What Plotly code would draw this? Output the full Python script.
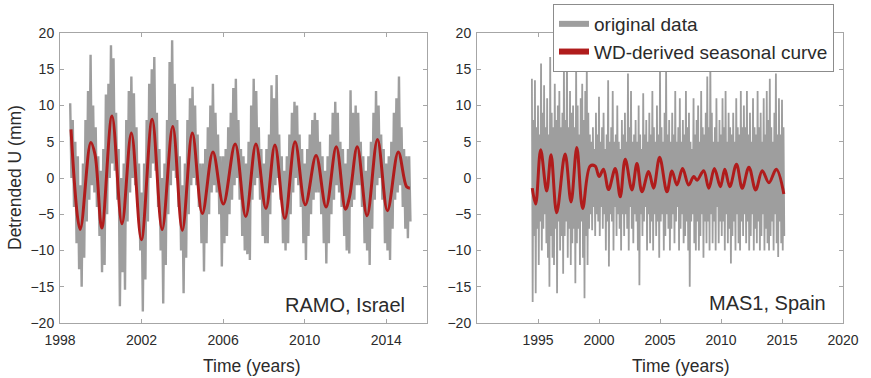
import plotly.graph_objects as go

# ---------------- data ----------------
STEP = 0.125  # years between successive high/low samples of the raw series

# RAMO, Israel - raw series envelope (high / low per 1/8 year), starting 1998.5
ramo_start = 1998.5
ramo_hi = [10.3, 8, 5, 3,
           -1, 2, 8, 12, 17.0, 10, 7, 3,
           1, 4, 11.5, 13, 18.3, 16.5, 9, 4,
           0, 2, 8, 12, 14, 11.7, 7, 2,
           -2, 2, 8, 13, 15, 16.7, 9, 4,
           0, 2, 8, 16, 19, 13, 8, 3,
           -1, 2, 8, 11, 12.6, 10, 6, 2,
           2, 4, 7, 10, 13, 9, 6, 3,
           3, 4, 7, 9, 12.4, 13.7, 8, 4,
           3, 2, 5, 10, 13.7, 12, 7, 4,
           2, 4, 6, 12.8, 11, 14.2, 6, 3,
           1, 3, 6, 9, 10.5, 10, 6, 4,
           2, 4, 6, 8, 9, 8, 5, 3,
           1, 3, 6, 9, 10.5, 9, 5, 4,
           2, 4, 12.1, 9, 10, 9, 5, 3,
           1, 3, 5, 9, 12, 10, 6, 4,
           2, 3, 5, 9, 11, 14, 7, 4,
           3, 3]
ramo_lo = [0, -4, -9, -12.6,
           -15, -11, -6, -3, -1, -2, -4, -8,
           -13, -12, -5, 0, 2, 1, -3, -17.7,
           -13, -15.4, -6, -2, 0, -1, -4, -10,
           -18.4, -14, -6, 0, 2, 1, -4, -10,
           -17.3, -12, -5, -1, 1, 0, -4, -10,
           -15.9, -11, -5, -1, 0, -1, -4, -9,
           -12.9, -9, -5, -2, -1, -2, -5, -12.2,
           -9, -8, -5, -3, -1, 0, -3, -8,
           -10, -10.5, -11.3, -3, -1, 0, -3, -8,
           -9, -9, -5, -2, -1, 0, -3, -9,
           -10, -9, -5, -2, 0, -1, -4, -9,
           -11.3, -8, -5, -3, -2, -2, -5, -9,
           -11.8, -9, -5, -3, -1, -2, -4, -8,
           -10, -10.4, -4, -3, -1, -1, -4, -9,
           -10, -12, -7, -3, -1, 0, -3, -9,
           -10, -11.3, -7, -3, -2, -1, -4, -7,
           -8.3, -6]

# RAMO - WD-derived seasonal curve (turning points)
ramo_red_t = [1998.54, 1998.99, 1999.51, 1999.72, 2000.05, 2000.55, 2001.04, 2001.50,
              2001.99, 2002.52, 2003.01, 2003.53, 2004.00, 2004.49, 2004.98, 2005.50,
              2006.01, 2006.59, 2007.11, 2007.61, 2008.10, 2008.54, 2009.03, 2009.53,
              2010.03, 2010.56, 2011.05, 2011.55, 2012.00, 2012.20, 2012.58, 2013.06,
              2013.57, 2014.06, 2014.59, 2015.0, 2015.16]
ramo_red_v = [6.7, -7.1, 4.9, 3.2, -6.9, 8.55, -6.3, 6.2,
              -8.5, 8.1, -7.1, 7.1, -7.2, 6.2, -4.9, 3.6,
              -3.6, 4.7, -5.3, 4.7, -4.2, 4.55, -5.6, 5.0,
              -3.7, 3.1, -4.0, 4.3, -4.3, -2.6, 4.3, -5.2,
              5.3, -4.5, 3.6, -1.2, -1.4]

# MAS1, Spain - raw series envelope, starting 1994.5
mas_start = 1994.5
mas_hi = [13.7, 8, 13.5, 7,
          10, 6, 15.8, 9, 12.8, 7, 11, 6,
          16.7, 9, 7, 13, 8, 10, 12, 7,
          9, 16, 8, 17.7, 7, 12, 9, 10,
          7, 15.6, 10, 6, 11, 13, 8, 12,
          15.8, 9, 6, 5, 7, 4, 9, 6,
          11.2, 5, 7, 9, 4, 6, 13.5, 5,
          7, 12, 5, 6, 10, 5, 4, 8,
          6, 9, 5, 14.4, 7, 12, 5, 6,
          8, 5, 10, 6, 4, 11.7, 6, 8,
          5, 9, 6, 12, 7, 5, 10, 6,
          15.1, 7, 5, 9, 14.9, 6, 8, 5,
          9, 6, 12, 5, 7, 11, 5, 8,
          6, 12, 7, 9, 5, 4, 11, 6,
          8, 10, 5, 12, 7, 6, 9, 14,
          7, 16.5, 9, 5, 7, 11, 5, 8,
          6, 11, 7, 12, 5, 9, 7, 6,
          9, 5, 11, 7, 6, 12, 7, 10,
          7, 12, 6, 9, 5, 11, 7, 6,
          12, 7, 9, 5, 11, 6, 12, 8,
          13.7, 7, 5, 9, 14.4, 6, 11, 6,
          10.8, 7]
mas_lo = [-17.1, -8, -15.9, -7,
          -12, -6, -10, -7, -5, -9, -11, -15,
          -8, -11, -12, -7, -15.9, -6, -10, -8,
          -13.2, -8, -6, -11, -7, -12, -9, -7,
          -14.5, -9, -7, -12, -6, -11, -16.6, -8,
          -12, -7, -5, -7.2, -4, -8, -5, -6,
          -8, -4, -7, -5, -10, -6, -12.2, -5,
          -6, -10, -4, -8, -5, -7, -10, -5,
          -8, -5, -7, -10, -4, -7, -9, -5,
          -6, -10, -14.8, -5, -8, -6, -4, -10,
          -5, -9, -6, -10, -5, -8, -6, -11,
          -6, -5, -10, -8, -5, -7, -10, -7,
          -5, -9, -6, -4, -10, -7, -5, -9,
          -8, -6, -10, -15, -6, -5, -9, -10,
          -6, -10, -8, -5, -11, -6, -9, -6,
          -10, -5, -9, -6, -10, -4, -9, -6,
          -8, -6, -10, -5, -9, -7, -11.8, -8,
          -6, -10, -5, -9, -10, -6, -8, -5,
          -9, -6, -10, -8, -5, -10, -7, -9,
          -6, -10, -8, -5, -10, -7, -9, -10,
          -8, -6, -10, -5, -9, -10.9, -6, -9,
          -10, -8]

# MAS1 - WD-derived seasonal curve (turning points)
mas_red_t = [1994.53, 1994.81, 1995.22, 1995.71, 1996.07, 1996.53, 1997.22, 1997.71,
             1998.18, 1998.66, 1999.27, 1999.68, 2000.01, 2000.37, 2000.78, 2001.33,
             2001.74, 2002.15, 2002.70, 2003.11, 2003.52, 2004.07, 2004.47, 2004.97,
             2005.57, 2005.98, 2006.39, 2006.85, 2007.35, 2007.76, 2008.04, 2008.58,
             2009.00, 2009.46, 2009.95, 2010.31, 2010.72, 2011.27, 2011.74, 2012.29,
             2012.84, 2013.38, 2013.93, 2014.53, 2015.15]
mas_red_v = [-1.4, -3.6, 3.9, -1.8, 3.2, -4.8, 3.3, -3.3,
             4.2, -4.2, 1.65, 1.65, 0.2, 1.2, -1.6, 1.3,
             -2.6, 2.6, -1.65, 2.0, -1.9, 0.9, -1.4, 2.85,
             -1.9, 0.97, -0.97, 1.3, -0.97, 0.2, -0.3, 1.0,
             -1.4, 1.3, -1.2, 1.2, -1.2, 1.9, -1.4, 1.5,
             -1.65, 1.0, -0.65, 1.2, -2.2]

left_xticks = [1998, 2002, 2006, 2010, 2014]
right_xticks = [1995, 2000, 2005, 2010, 2015, 2020]
yticks = [-20, -15, -10, -5, 0, 5, 10, 15, 20]

# ---------------- styling ----------------
GRAY = "#9e9e9e"
RED = "#b01c1c"
FONT = "Liberation Sans, Arial, sans-serif"
TXT = "#2b2b2b"
FRAME = "#a6a6a6"


def zigzag(start, hi, lo):
    xs, ys = [], []
    for i, (h, l) in enumerate(zip(hi, lo)):
        t = start + i * STEP
        xs += [t, t + STEP / 2]
        ys += [h, l]
    return xs, ys


fig = go.Figure()

rx, ry = zigzag(ramo_start, ramo_hi, ramo_lo)
mx, my = zigzag(mas_start, mas_hi, mas_lo)

fig.add_trace(go.Scatter(x=rx, y=ry, mode="lines", line=dict(color=GRAY, width=2.4),
                         showlegend=False, xaxis="x", yaxis="y", hoverinfo="skip"))
fig.add_trace(go.Scatter(x=ramo_red_t, y=ramo_red_v, mode="lines",
                         line=dict(color=RED, width=3, shape="spline"),
                         showlegend=False, xaxis="x", yaxis="y"))
fig.add_trace(go.Scatter(x=mx, y=my, mode="lines", line=dict(color=GRAY, width=1.8),
                         showlegend=False, xaxis="x2", yaxis="y2", hoverinfo="skip"))
fig.add_trace(go.Scatter(x=mas_red_t, y=mas_red_v, mode="lines",
                         line=dict(color=RED, width=3, shape="spline"),
                         showlegend=False, xaxis="x2", yaxis="y2"))
# legend entries
fig.add_trace(go.Scatter(x=[None], y=[None], mode="lines", name="original data",
                         line=dict(color=GRAY, width=6), xaxis="x2", yaxis="y2"))
fig.add_trace(go.Scatter(x=[None], y=[None], mode="lines", name="WD-derived seasonal curve",
                         line=dict(color=RED, width=6), xaxis="x2", yaxis="y2"))

W, H = 871, 378
ML, MR, MT, MB = 60, 28, 33, 55
PW = W - ML - MR
PH = H - MT - MB


def px_x(p):
    return (p - ML) / PW


def px_y(p):
    return (H - MB - p) / PH


axis_common = dict(showline=True, linecolor=FRAME, linewidth=1, mirror="ticks",
                   ticks="inside", ticklen=4, tickcolor=FRAME, showgrid=False,
                   zeroline=False, tickfont=dict(family=FONT, size=14, color=TXT))

fig.update_layout(
    width=W, height=H,
    margin=dict(l=ML, r=MR, t=MT, b=MB, autoexpand=False),
    paper_bgcolor="white", plot_bgcolor="white",
    font=dict(family=FONT, color=TXT),
    xaxis=dict(domain=[0, px_x(427)], range=[1998, 2016], tickvals=left_xticks,
               anchor="y", ticklabelstandoff=4, **axis_common),
    yaxis=dict(domain=[0, 1], range=[-20, 20], tickvals=yticks, anchor="x",
               ticklabelstandoff=2, **axis_common),
    xaxis2=dict(domain=[px_x(477), 1], range=[1990, 2020], tickvals=right_xticks,
                anchor="y2", ticklabelstandoff=4, **axis_common),
    yaxis2=dict(domain=[0, 1], range=[-20, 20], tickvals=yticks, anchor="x2",
                ticklabelstandoff=2, **axis_common),
    legend=dict(x=px_x(553), y=px_y(4), xanchor="left", yanchor="top",
                bgcolor="white", bordercolor="#8c8c8c", borderwidth=1,
                font=dict(family=FONT, size=19, color=TXT),
                tracegroupgap=0, itemwidth=30),
    showlegend=True,
)

annots = [
    dict(text="RAMO, Israel", xref="x domain", yref="y domain", x=0.945, y=0.062,
         xanchor="right", yanchor="middle", font=dict(size=20)),
    dict(text="MAS1, Spain", xref="x2 domain", yref="y2 domain", x=0.96, y=0.069,
         xanchor="right", yanchor="middle", font=dict(size=20)),
    dict(text="Time (years)", xref="paper", yref="paper", x=px_x(252), y=px_y(366),
         xanchor="center", yanchor="middle", font=dict(size=17.5)),
    dict(text="Time (years)", xref="paper", yref="paper", x=px_x(681), y=px_y(366),
         xanchor="center", yanchor="middle", font=dict(size=17.5)),
    dict(text="Detrended U (mm)", xref="paper", yref="paper", x=px_x(15), y=px_y(178),
         xanchor="center", yanchor="middle", textangle=-90, font=dict(size=17.5)),
]
for a in annots:
    a["showarrow"] = False
    a["font"]["family"] = FONT
    a["font"]["color"] = TXT
    fig.add_annotation(**a)

fig.write_html("out.html")
